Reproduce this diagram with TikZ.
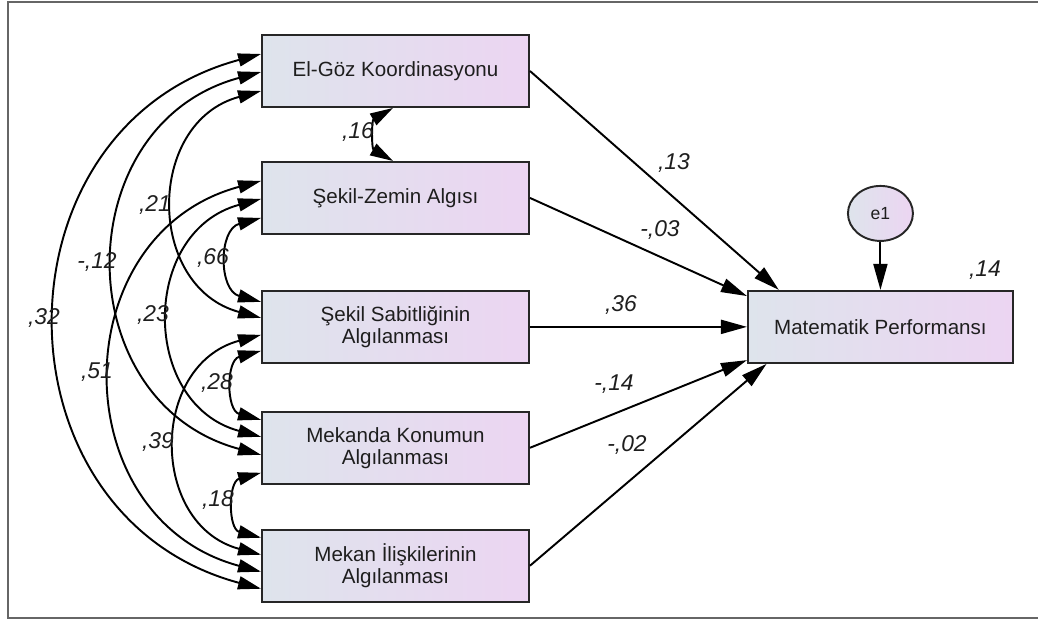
\documentclass[tikz,border=0pt]{standalone}
\usepackage{fontspec}
\setmainfont{Liberation Sans}
\usetikzlibrary{positioning, arrows.meta, shapes.geometric}

\definecolor{boxleft}{RGB}{222,228,236}
\definecolor{boxright}{RGB}{236,213,242}
\definecolor{txt}{RGB}{30,30,30}

\begin{document}
\begin{tikzpicture}[
    block/.style={
        draw=black!85,
        line width=1.1pt,
        rectangle,
        left color=boxleft,
        right color=boxright,
        minimum height=1.44cm,
        minimum width=5.34cm,
        inner sep=0pt,
        align=center,
        text=txt,
        font=\fontsize{11.7}{12.6}\selectfont
    },
    err/.style={
        draw=black!85,
        line width=1.1pt,
        ellipse,
        left color=boxleft,
        right color=boxright,
        minimum width=1.3cm,
        minimum height=1.1cm,
        inner sep=0pt,
        text=txt,
        font=\fontsize{10}{10}\selectfont
    },
    arrow/.style={-{Triangle[length=0.52cm,width=0.28cm]}, line width=1.1pt},
    cov/.style={{Triangle[length=0.46cm,width=0.26cm]}-{Triangle[length=0.46cm,width=0.26cm]},
        line width=1.1pt, bend right=75, looseness=1.35},
    est/.style={font=\fontsize{13}{13}\selectfont\itshape, text=txt, inner sep=0pt}
]

\useasboundingbox (0,0) rectangle (20.76,-12.42);

% frame
\draw[line width=1.3pt, black!60] (20.76,-0.04) -- (0.16,-0.04) -- (0.16,-12.36) -- (20.76,-12.36);

% Exogenous variables
\node[block] (b1) at (7.91,-1.42) {El-Göz Koordinasyonu};

\node[block, below=1.06cm of b1] (b2) {Şekil-Zemin Algısı};

\node[block, below=1.10cm of b2] (b3) {Şekil Sabitliğinin\\Algılanması};

\node[block, below=0.94cm of b3] (b4) {Mekanda Konumun\\Algılanması};

\node[block, below=0.88cm of b4] (b5) {Mekan İlişkilerinin\\Algılanması};

% Outcome
\node[block, minimum width=5.3cm, right=4.34cm of b3] (mp) {Matematik Performansı};

\node[err, above=0.96cm of mp] (e1) {e1};

% Paths
\draw[arrow] (b1.east) -- (mp.160);
\draw[arrow] (b2.east) -- (mp.167);
\draw[arrow] (b3.east) -- (mp.west);
\draw[arrow] (b4.east) -- (mp.194);
\draw[arrow] (b5.east) -- (mp.198);
\draw[arrow] (e1.south) -- (mp.north);

% Covariances
\draw[cov, bend right=60, looseness=1.2] ([xshift=-0.05cm]b1.south) to ([xshift=-0.05cm]b2.north);
\draw[cov] ([yshift=0.34cm]b1.west) to ([yshift=-0.46cm]b5.west);
\draw[cov] ([yshift=-0.02cm]b1.west) to ([yshift=-0.14cm]b4.west);
\draw[cov] ([yshift=-0.40cm]b1.west) to ([yshift=0.18cm]b3.west);
\draw[cov] ([yshift=0.34cm]b2.west) to ([yshift=-0.12cm]b5.west);
\draw[cov] ([yshift=-0.02cm]b2.west) to ([yshift=0.22cm]b4.west);
\draw[cov] ([yshift=-0.40cm]b2.west) to ([yshift=0.50cm]b3.west);
\draw[cov] ([yshift=-0.16cm]b3.west) to ([yshift=0.22cm]b5.west);
\draw[cov] ([yshift=-0.48cm]b3.west) to ([yshift=0.56cm]b4.west);
\draw[cov] ([yshift=-0.50cm]b4.west) to ([yshift=0.56cm]b5.west);

% Estimates
\node[est] (c16) at (7.16,-2.64) {,16};
\node[est] (c21) at (3.10,-4.10) {,21};
\node[est] (c12) at (1.94,-5.24) {-,12};
\node[est] (c32) at (0.88,-6.36) {,32};
\node[est] (c66) at (4.26,-5.16) {,66};
\node[est] (c23) at (3.06,-6.30) {,23};
\node[est] (c51) at (1.94,-7.44) {,51};
\node[est] (c28) at (4.34,-7.66) {,28};
\node[est] (c39) at (3.16,-8.84) {,39};
\node[est] (c18) at (4.36,-10.00) {,18};

\node[est] (p1) at (13.48,-3.26) {,13};
\node[est] (p2) at (13.20,-4.60) {-,03};
\node[est] (p3) at (12.42,-6.10) {,36};
\node[est] (p4) at (12.28,-7.68) {-,14};
\node[est] (p5) at (12.54,-8.90) {-,02};
\node[est] (r2) at (19.70,-5.40) {,14};

\end{tikzpicture}
\end{document}
